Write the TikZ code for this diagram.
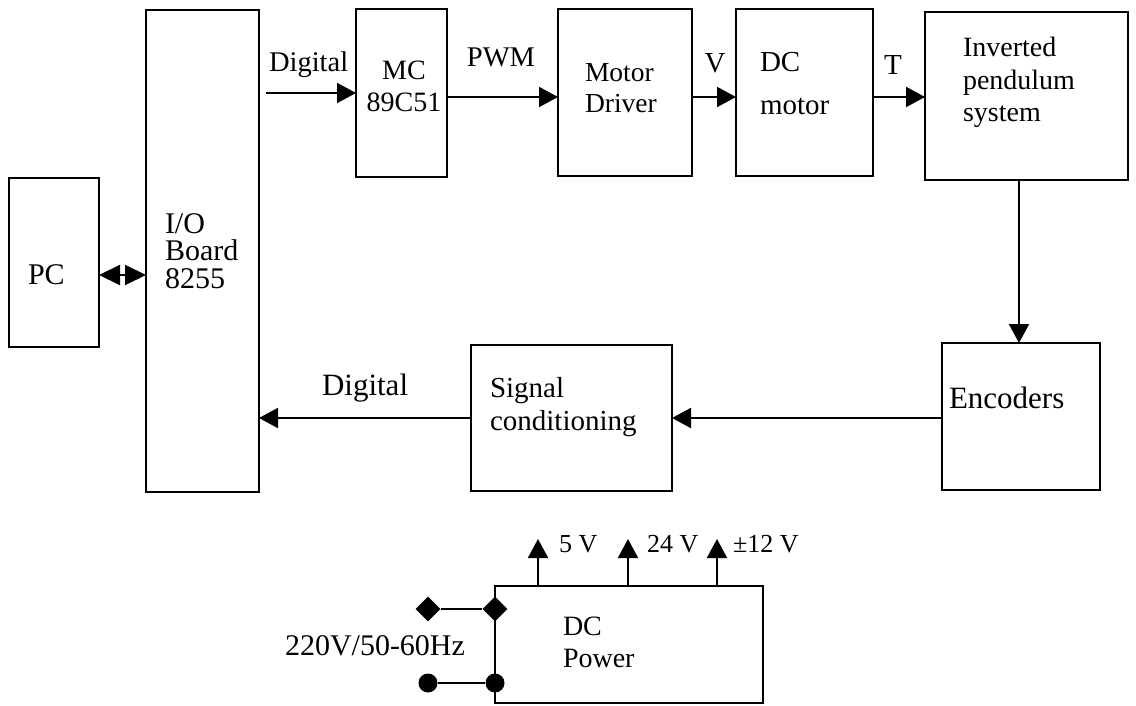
\documentclass[tikz,border=0pt]{standalone}
\usepackage{fontspec}
\setmainfont{Liberation Serif}
\usetikzlibrary{arrows.meta,shapes.geometric}
\newcommand\myfs[2]{\fontsize{#1}{#2}\selectfont}
\begin{document}
\begin{tikzpicture}[x=1pt,y=-1pt,
  blk/.style={draw, line width=2.2pt, inner sep=0pt, outer sep=0pt},
  txt/.style={inner sep=0pt, outer sep=0pt, anchor=base west, align=left},
  arr/.style={line width=2pt, -{Triangle[length=19pt,width=20pt]}},
  wire/.style={line width=2pt},
  dia/.style={diamond, fill=black, inner sep=0pt, minimum size=25pt},
  dot/.style={circle, fill=black, inner sep=0pt, minimum size=19pt}]
\useasboundingbox (0,0) rectangle (1136,706);
% boxes
\node[blk, minimum width=90pt, minimum height=169pt] (pc) at (54,262.5) {};
\node[blk, minimum width=113pt, minimum height=482pt] (io) at (202.5,251) {};
\node[blk, minimum width=91pt, minimum height=168pt] (mc) at (401.5,93) {};
\node[blk, minimum width=134pt, minimum height=167pt] (md) at (625,92.5) {};
\node[blk, minimum width=137pt, minimum height=167pt] (dcm) at (804.5,92.5) {};
\node[blk, minimum width=203pt, minimum height=168pt] (pend) at (1026.5,96) {};
\node[blk, minimum width=201pt, minimum height=146pt] (sig) at (571.5,418) {};
\node[blk, minimum width=158pt, minimum height=147pt] (enc) at (1021,416.5) {};
\node[blk, minimum width=268pt, minimum height=117pt] (pow) at (629,644.5) {};
% texts (base anchor = baseline of the last line)
\node[txt, font=\myfs{30}{30}] (pct) at (28,284.5) {PC};
\node[txt, font=\myfs{30}{27.5}] (iot) at (165,288) {I/O\\Board\\8255};
\node[txt, font=\myfs{28.5}{30}] (dig1) at (269,72) {Digital};
\node[txt, anchor=base, align=center, font=\myfs{28}{32}] (mct) at (404,112) {MC\\89C51};
\node[txt, anchor=base, font=\myfs{28.5}{30}] (pwm) at (501,67) {PWM};
\node[txt, font=\myfs{27.5}{31}] (mdt) at (585,113) {Motor\\Driver};
\node[txt, anchor=base, font=\myfs{29}{30}] (vl) at (715,73) {V};
\node[txt, font=\myfs{29}{43}] (dct) at (760,115) {DC\\motor};
\node[txt, anchor=base, font=\myfs{29}{30}] (tl) at (893,75) {T};
\node[txt, font=\myfs{28}{32.5}] (pt) at (963,122) {Inverted\\pendulum\\system};
\node[txt, font=\myfs{31}{30}] (dig2) at (322,395) {Digital};
\node[txt, font=\myfs{29}{33}] (sct) at (490,430) {Signal\\conditioning};
\node[txt, font=\myfs{31}{30}] (enct) at (949,408) {Encoders};
\node[txt, font=\myfs{26}{30}] (v5) at (559,552) {5 V};
\node[txt, font=\myfs{26}{30}] (v24) at (647,552) {24 V};
\node[txt, font=\myfs{26}{30}] (v12) at (733,552) {±12 V};
\node[txt, font=\myfs{28}{32}] (dcpt) at (563,667) {DC\\Power};
\node[txt, font=\myfs{30}{30}] (acl) at (285,655) {220V/50-60Hz};
% helper coordinates
\coordinate (r93) at (0,93);
\coordinate (r97) at (0,97);
\coordinate (r275) at (0,275);
\coordinate (r418) at (0,418);
\coordinate (c1019) at (1019,0);
\coordinate (dstart) at (266,93);
% connectors
\draw[line width=2pt, {Triangle[length=21pt,width=20pt]}-{Triangle[length=21pt,width=20pt]}] (pc.east |- r275) -- (io.west |- r275);
\draw[arr, line width=1.6pt] (dstart) -- (mc.west |- r93);
\draw[arr] (mc.east |- r97) -- (md.west |- r97);
\draw[arr] (md.east |- r97) -- (dcm.west |- r97);
\draw[arr] (dcm.east |- r97) -- (pend.west |- r97);
\draw[arr] (pend.south -| c1019) -- (enc.north -| c1019);
\draw[arr] (enc.west |- r418) -- (sig.east |- r418);
\draw[arr] (sig.west |- r418) -- (io.east |- r418);
% power
\coordinate (u1) at (538,539);
\coordinate (u2) at (628,539);
\coordinate (u3) at (717,539);
\draw[arr] (pow.north -| u1) -- (u1);
\draw[arr] (pow.north -| u2) -- (u2);
\draw[arr] (pow.north -| u3) -- (u3);
\node[dia] (d1) at (428,609) {};
\node[dia] (d2) at (495,609) {};
\node[dot] (o1) at (428,683) {};
\node[dot] (o2) at (495,683) {};
\draw[wire] (d1) -- (d2);
\draw[wire] (o1) -- (o2);
\end{tikzpicture}
\end{document}
